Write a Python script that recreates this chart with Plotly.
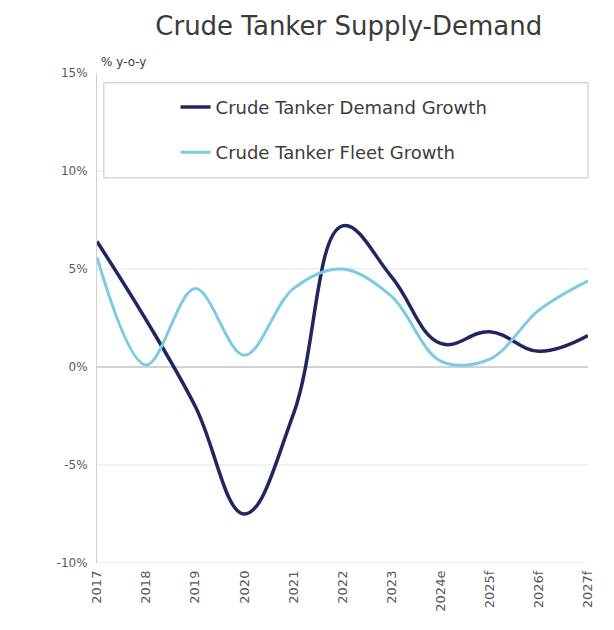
import plotly.graph_objects as go

years = ["2017", "2018", "2019", "2020", "2021", "2022", "2023", "2024e", "2025f", "2026f", "2027f"]
demand_growth = [6.4, 2.4, -2.0, -7.5, -2.4, 7.2, 4.6, 1.2, 1.8, 0.8, 1.6]
fleet_growth = [5.6, 0.1, 4.0, 0.6, 4.0, 5.0, 3.6, 0.3, 0.4, 2.9, 4.4]
y_ticks = [-10, -5, 0, 5, 10, 15]
y_tick_labels = [f"{v}%" for v in y_ticks]
grid_levels = [-10, -5, 5, 10]

FONT = "DejaVu Sans"
TXT = "#3c3c3c"

fig = go.Figure()
fig.add_trace(go.Scatter(
    x=years, y=demand_growth, mode="lines", name="Crude Tanker Demand Growth",
    line=dict(color="#1f2660", width=3.5, shape="spline", smoothing=1.15),
    legendgroup="d",
))
fig.add_trace(go.Scatter(
    x=years, y=fleet_growth, mode="lines", name="Crude Tanker Fleet Growth",
    line=dict(color="#7ccbe2", width=3, shape="spline", smoothing=1.0),
    legendgroup="f",
))

shapes = []
for g in grid_levels:
    shapes.append(dict(type="line", xref="paper", yref="y", x0=0, x1=1, y0=g, y1=g,
                       line=dict(color="#e3e3e3", width=1), layer="below"))
shapes.append(dict(type="line", xref="paper", yref="y", x0=0, x1=1, y0=0, y1=0,
                   line=dict(color="#a6a6a6", width=1), layer="below"))
# legend frame
shapes.append(dict(type="rect", xref="paper", yref="y", x0=0.014, x1=1.0, y0=9.65, y1=14.5,
                   line=dict(color="#c4c4c4", width=1), fillcolor="white", layer="below"))

fig.update_layout(
    width=614, height=630,
    margin=dict(l=89, r=34, t=65, b=75),
    paper_bgcolor="white", plot_bgcolor="white",
    font=dict(family=FONT, color=TXT, size=12),
    title=dict(text="Crude Tanker Supply-Demand", x=0.555, xref="container", xanchor="center",
               y=0.972, yref="container", yanchor="middle",
               font=dict(family=FONT, size=26, color="#3a3a3a")),
    shapes=shapes,
    showlegend=True,
    legend=dict(x=0.16, xanchor="left", y=0.968, yanchor="top", bgcolor="rgba(0,0,0,0)",
                borderwidth=0, font=dict(size=18, color=TXT), tracegroupgap=19,
                traceorder="grouped"),
    annotations=[dict(text="% y-o-y", xref="paper", yref="paper", x=0.005, y=1.022,
                      xanchor="left", yanchor="middle", showarrow=False,
                      font=dict(size=12, color=TXT))],
)
fig.update_xaxes(type="category", range=[0, 10], tickangle=-90, showgrid=False,
                 showline=False, ticks="", ticklabelstandoff=4,
                 tickfont=dict(size=13, color="#595959"))
fig.update_yaxes(range=[-10, 15], tickvals=y_ticks, ticktext=y_tick_labels, showgrid=False,
                 zeroline=False, showline=True, linecolor="#d0d0d0", linewidth=1,
                 ticks="", ticklabelstandoff=6, tickfont=dict(size=12, color="#595959"))

fig.write_html("out.html")
